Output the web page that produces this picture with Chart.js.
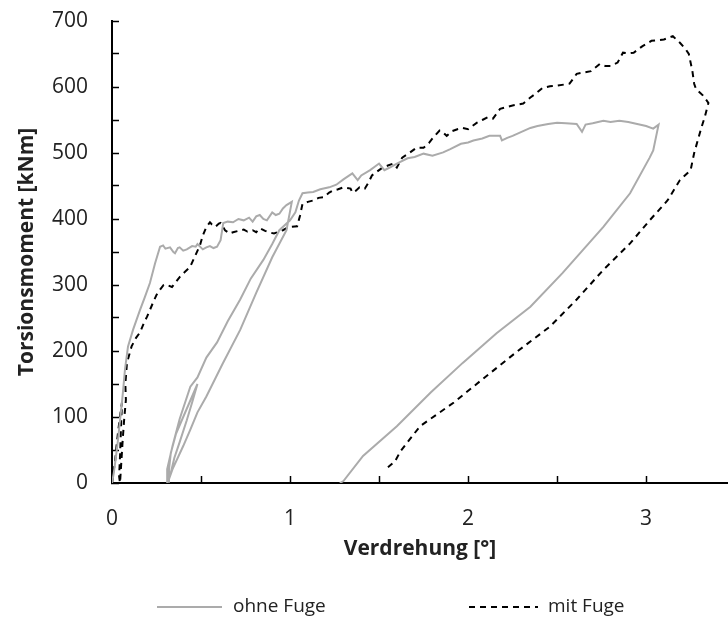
<!DOCTYPE html>
<html>
<head>
<meta charset="utf-8">
<script src="https://cdn.jsdelivr.net/npm/chart.js@4.4.1/dist/chart.umd.min.js"></script>
<style>
  html, body { margin: 0; padding: 0; background: #fff; }
</style>
</head>
<body>
<canvas id="torsionChart" width="728" height="619"></canvas>
<script>
// Verdrehung [°] / Torsionsmoment [kNm] - ohne Fuge
const ohneX = [0, 0.01, 0.02, 0.034, 0.045, 0.056, 0.065, 0.073, 0.09, 0.118, 0.157, 0.185, 0.213, 0.242, 0.27,
  0.287, 0.30, 0.326, 0.345, 0.354, 0.37, 0.38, 0.40, 0.42, 0.45, 0.47, 0.48, 0.51, 0.53, 0.55, 0.57, 0.59,
  0.61, 0.625, 0.65, 0.68, 0.71, 0.74, 0.77, 0.79, 0.81, 0.83, 0.85, 0.87, 0.90, 0.92, 0.94, 0.96, 0.98, 1.01,
  0.98, 0.90, 0.81, 0.72, 0.62, 0.53, 0.48, 0.44, 0.40, 0.34, 0.315,
  0.32, 0.33, 0.36, 0.40, 0.44, 0.48, 0.45, 0.42, 0.38, 0.35, 0.33, 0.31,
  0.31, 0.34, 0.38, 0.44, 0.48, 0.53, 0.59, 0.65, 0.72, 0.78, 0.85, 0.90, 0.94, 1.00, 1.03, 1.05, 1.07,
  1.10, 1.13, 1.17, 1.22, 1.26, 1.30, 1.35, 1.38, 1.40, 1.45, 1.50, 1.53, 1.56, 1.60, 1.66, 1.70, 1.75, 1.80,
  1.86, 1.90, 1.96, 2.00, 2.03, 2.08, 2.12, 2.18, 2.19, 2.22, 2.25, 2.30, 2.35, 2.39, 2.45, 2.50, 2.55, 2.61,
  2.64, 2.66, 2.70, 2.76, 2.80, 2.85, 2.90, 2.95, 3.00, 3.04, 3.07,
  3.04, 3.02, 2.91, 2.76, 2.53, 2.35, 2.16, 1.97, 1.79, 1.60, 1.41, 1.30, 1.28];
const ohneY = [0, 15, 35, 66, 95, 122, 148, 172, 207, 232, 262, 282, 303, 333, 358,
  360, 355, 357, 350, 348, 356, 357, 352, 354, 359, 358, 362, 354, 357, 359, 356, 358,
  368, 394, 396, 395, 400, 398, 402, 396, 404, 406, 400, 398, 410, 406, 408, 416, 421, 426,
  383, 342, 288, 232, 180, 131, 107, 81, 56, 21, 2,
  20, 45, 75, 100, 125, 150, 122, 95, 62, 38, 15, 0,
  21, 56, 97, 146, 160, 190, 213, 245, 278, 310, 338, 362, 383, 398, 410, 428, 439,
  440, 441, 445, 448, 452, 460, 469, 459, 466, 474, 484, 474, 478, 484, 492, 494, 499, 496,
  501, 506, 514, 516, 519, 522, 526, 526, 519, 523, 526, 532, 538, 541, 544, 546, 545, 544,
  532, 543, 545, 549, 547, 549, 547, 544, 541, 537, 543,
  504, 493, 439, 388, 318, 267, 227, 182, 137, 86, 41, 3, 0];

// mit Fuge
const mitX = [0, 0.01, 0.017, 0.025, 0.034, 0.045, 0.056, 0.05, 0.045, 0.04, 0.045, 0.052, 0.06, 0.068, 0.078,
  0.075, 0.084, 0.11, 0.135, 0.157, 0.18, 0.197, 0.23, 0.25, 0.27, 0.29, 0.309, 0.337, 0.36, 0.38, 0.41,
  0.438, 0.46, 0.494, 0.51, 0.53, 0.55, 0.56, 0.58, 0.60, 0.61, 0.635, 0.66, 0.68, 0.71, 0.74, 0.76, 0.79,
  0.81, 0.83, 0.86, 0.88, 0.91, 0.93, 0.96, 0.98, 1.00, 1.04, 1.056, 1.07, 1.10, 1.13, 1.16, 1.19, 1.22,
  1.24, 1.27, 1.30, 1.32, 1.34, 1.35, 1.37, 1.39, 1.42, 1.44, 1.46, 1.49, 1.52, 1.55, 1.58, 1.60, 1.63,
  1.67, 1.71, 1.75, 1.78, 1.80, 1.84, 1.86, 1.88, 1.91, 1.94, 1.97, 2.00, 2.03, 2.05, 2.08, 2.11, 2.14,
  2.18, 2.21, 2.25, 2.31, 2.35, 2.38, 2.42, 2.46, 2.50, 2.57, 2.61, 2.65, 2.69, 2.74, 2.77, 2.80, 2.84,
  2.87, 2.90, 2.93, 2.98, 3.03, 3.07, 3.10, 3.15, 3.19, 3.22, 3.24, 3.26, 3.27, 3.28, 3.32, 3.35,
  3.33, 3.31, 3.27, 3.25, 3.19, 3.12, 3.02, 2.91, 2.76, 2.61, 2.46, 2.27, 2.08, 1.92, 1.73, 1.62, 1.59, 1.55];
const mitY = [0, 20, 32, 55, 77, 101, 122, 80, 40, 10, 0, 30, 65, 95, 126,
  150, 182, 207, 220, 228, 243, 252, 273, 285, 293, 300, 300, 297, 305, 312, 320,
  327, 340, 360, 375, 388, 395, 392, 388, 393, 394, 383, 378, 380, 382, 384, 381, 383,
  380, 386, 382, 380, 378, 380, 383, 386, 388, 389, 405, 423, 426, 428, 432, 433, 440,
  443, 445, 448, 447, 446, 440, 443, 448, 446, 455, 466, 472, 478, 481, 484, 478, 493,
  500, 508, 508, 515, 522, 534, 531, 526, 533, 536, 538, 536, 542, 546, 550, 554, 552,
  567, 569, 572, 575, 584, 590, 599, 601, 602, 605, 620, 622, 624, 635, 632, 632, 637,
  652, 651, 652, 662, 670, 671, 672, 677, 667, 658, 650, 624, 605, 597, 587, 576,
  555, 538, 500, 474, 459, 428, 398, 363, 323, 278, 237, 198, 157, 122, 86, 48, 33, 24];

const xTickLabels = [0, 1, 2, 3];
const yTickLabels = [0, 100, 200, 300, 400, 500, 600, 700];

function toPoints(xs, ys) {
    return xs.map((x, i) => ({ x: x, y: ys[i] }));
}

// Legend drawn below the plot, like the Excel original
const bottomLegend = {
    id: 'bottomLegend',
    afterDraw(chart) {
        const ctx = chart.ctx;
        const y = 607;
        ctx.save();
        ctx.lineWidth = 2;
        ctx.strokeStyle = '#ababab';
        ctx.beginPath();
        ctx.moveTo(157, y);
        ctx.lineTo(222, y);
        ctx.stroke();
        ctx.strokeStyle = '#000';
        ctx.setLineDash([6, 5]);
        ctx.beginPath();
        ctx.moveTo(469, y);
        ctx.lineTo(538, y);
        ctx.stroke();
        ctx.setLineDash([]);
        ctx.fillStyle = '#222';
        ctx.font = '19px "Open Sans"';
        ctx.textBaseline = 'middle';
        ctx.fillText(chart.data.datasets[0].label, 233, y);
        ctx.fillText(chart.data.datasets[1].label, 548, y);
        ctx.restore();
    }
};

new Chart(document.getElementById('torsionChart'), {
    type: 'scatter',
    data: {
        datasets: [{
            label: 'ohne Fuge',
            data: toPoints(ohneX, ohneY),
            showLine: true,
            borderColor: '#ababab',
            borderWidth: 2,
            pointRadius: 0,
            tension: 0
        }, {
            label: 'mit Fuge',
            data: toPoints(mitX, mitY),
            showLine: true,
            borderColor: '#000',
            borderWidth: 2,
            borderDash: [6, 5],
            pointRadius: 0,
            tension: 0
        }]
    },
    options: {
        responsive: false,
        animation: false,
        layout: { padding: { top: 21, right: 0, bottom: 0, left: 0 } },
        plugins: {
            legend: { display: false },
            tooltip: { enabled: false }
        },
        scales: {
            x: {
                type: 'linear',
                min: 0,
                max: 3.46,
                bounds: 'data',
                border: { display: true, color: '#000', width: 2 },
                grid: {
                    display: true,
                    drawOnChartArea: false,
                    drawTicks: true,
                    tickLength: -7,
                    tickColor: '#000',
                    tickWidth: 1.5
                },
                ticks: {
                    stepSize: 0.5,
                    includeBounds: false,
                    autoSkip: false,
                    maxRotation: 0,
                    padding: 30,
                    color: '#222',
                    font: { family: 'Open Sans', size: 21 },
                    callback: v => xTickLabels.includes(v) ? String(v) : ''
                },
                title: {
                    display: true,
                    text: 'Verdrehung [°]',
                    color: '#222',
                    font: { family: 'Open Sans', size: 21, weight: 'bold' },
                    padding: { top: 0, bottom: 57 }
                },
                afterFit: s => {
                    s.height = 136;
                    s.paddingLeft = 0;
                    s.paddingRight = 0;
                }
            },
            y: {
                min: 0,
                max: 700,
                border: { display: true, color: '#000', width: 2 },
                grid: {
                    display: true,
                    drawOnChartArea: false,
                    drawTicks: true,
                    tickLength: -7,
                    tickColor: '#000',
                    tickWidth: 1.5
                },
                ticks: {
                    stepSize: 50,
                    autoSkip: false,
                    padding: 31,
                    color: '#222',
                    font: { family: 'Open Sans', size: 21 },
                    callback: v => yTickLabels.includes(v) ? String(v) : ''
                },
                title: {
                    display: true,
                    text: 'Torsionsmoment [kNm]',
                    color: '#222',
                    font: { family: 'Open Sans', size: 21, weight: 'bold' },
                    padding: { top: 14, bottom: 0 }
                },
                afterFit: s => {
                    s.width = 112;
                    s.paddingTop = 0;
                    s.paddingBottom = 0;
                }
            }
        }
    },
    plugins: [bottomLegend]
});
</script>
</body>
</html>
